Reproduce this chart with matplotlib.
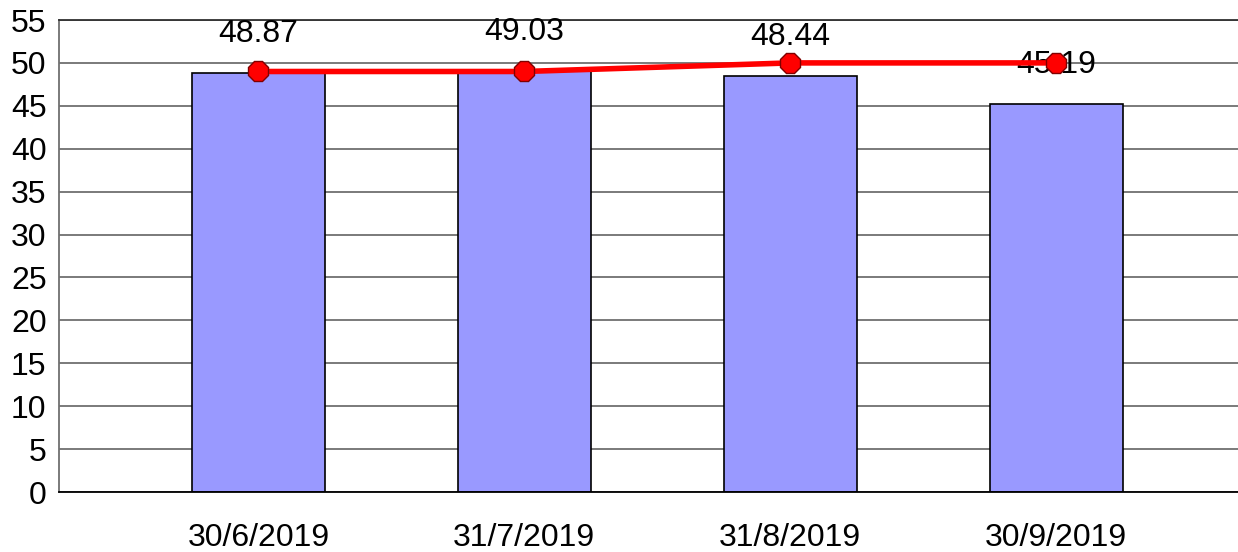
import matplotlib
matplotlib.use("Agg")
import numpy as np
from matplotlib import pyplot as plt

plt.rcParams['font.family'] = ['Liberation Sans', 'DejaVu Sans']

dates = ['30/6/2019', '31/7/2019', '31/8/2019', '30/9/2019']
bar_values = [48.87, 49.03, 48.44, 45.19]
line_values = [49.0, 49.0, 50.0, 50.0]
y_ticks = list(range(0, 60, 5))

fig = plt.figure(figsize=(12.38, 5.52), dpi=100)
ax = fig.add_axes([59 / 1238, 1 - 492 / 552, 1 - 59 / 1238, (492 - 20) / 552])

x = np.arange(len(dates))
ax.bar(x, bar_values, width=0.5, color='#9999ff', edgecolor='black', linewidth=1.2, zorder=2)
ax.plot(x, line_values, color='#ff0000', linewidth=4, marker='8', markersize=16,
        markerfacecolor='#ff0000', markeredgecolor='#800000', markeredgewidth=1, zorder=4)

for xi, v in zip(x, bar_values):
    ax.annotate('{:.2f}'.format(v), (xi, v), xytext=(0, 28), textcoords='offset points',
                ha='center', va='center', fontsize=23, zorder=3)

ax.set_xlim(-0.75, 3.684)
ax.set_ylim(0, 55)
ax.set_yticks(y_ticks)
ax.set_xticks(x)
ax.set_xticklabels(dates)
ax.tick_params(axis='both', length=0, labelsize=23)
ax.tick_params(axis='x', pad=22)
ax.tick_params(axis='y', pad=9)
ax.yaxis.grid(True, color='#707070', linewidth=1.3, zorder=0)
ax.set_axisbelow(True)

ax.spines['right'].set_visible(False)
ax.spines['top'].set_color('#303030')
ax.spines['left'].set_color('#707070')
ax.spines['bottom'].set_color('black')
for s in ['top', 'left', 'bottom']:
    ax.spines[s].set_linewidth(1.3)

fig.savefig('out.png', dpi=100)
